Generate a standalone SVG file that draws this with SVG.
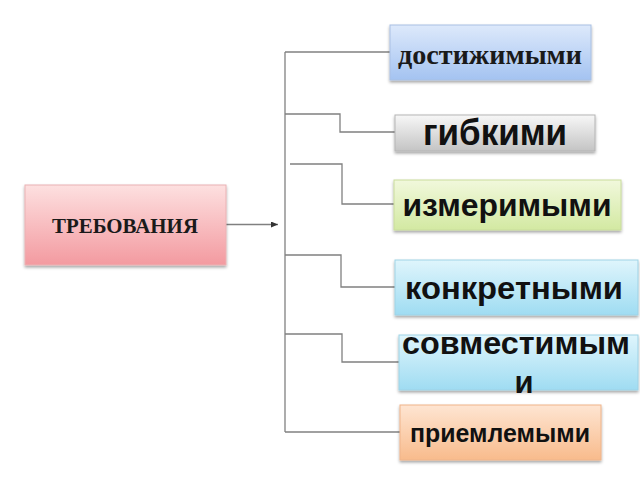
<svg xmlns="http://www.w3.org/2000/svg" width="640" height="480" viewBox="0 0 640 480">
<defs>
<linearGradient id="gPink" x1="0" y1="0" x2="0" y2="1"><stop offset="0" stop-color="#fde0e0"/><stop offset="1" stop-color="#f39aa0"/></linearGradient>
<linearGradient id="gBlue" x1="0" y1="0" x2="0" y2="1"><stop offset="0" stop-color="#dde9fb"/><stop offset="1" stop-color="#a4c3f1"/></linearGradient>
<linearGradient id="gGray" x1="0" y1="0" x2="0" y2="1"><stop offset="0" stop-color="#f7f7f7"/><stop offset="1" stop-color="#c4c4c4"/></linearGradient>
<linearGradient id="gGreen" x1="0" y1="0" x2="0" y2="1"><stop offset="0" stop-color="#f1f8dc"/><stop offset="1" stop-color="#d3e9a2"/></linearGradient>
<linearGradient id="gCyan" x1="0" y1="0" x2="0" y2="1"><stop offset="0" stop-color="#dff5fc"/><stop offset="1" stop-color="#9fdcf2"/></linearGradient>
<linearGradient id="gOrange" x1="0" y1="0" x2="0" y2="1"><stop offset="0" stop-color="#fee5d2"/><stop offset="1" stop-color="#f8bb8c"/></linearGradient>
<filter id="sh" x="-10%" y="-10%" width="125%" height="140%"><feDropShadow dx="0" dy="2" stdDeviation="1.5" flood-color="#000" flood-opacity="0.35"/></filter>
<marker id="arr" markerWidth="8" markerHeight="6" refX="7" refY="3" orient="auto" markerUnits="userSpaceOnUse"><path d="M0,0 L7,3 L0,6 Z" fill="#333"/></marker>
<style>
.box{filter:url(#sh);stroke-width:1}
.serif{font-family:"Liberation Serif","Times New Roman",serif;font-weight:bold;fill:#1a1a1a}
.sans{font-family:"Liberation Sans",Arial,sans-serif;font-weight:bold;fill:#111}
.ln{fill:none;stroke:#808080;stroke-width:1.3}
</style>
</defs>
<g id="connectors">
<path class="ln" d="M226,224.5 H278" stroke="#444" marker-end="url(#arr)"/>
<path class="ln" d="M285,52 V432"/>
<path class="ln" d="M285,52 H390"/>
<path class="ln" d="M285,114 H340 V132 H395"/>
<path class="ln" d="M290,164 H342 V204 H394"/>
<path class="ln" d="M285,255 H341 V287 H395"/>
<path class="ln" d="M285,334 H342 V362 H399"/>
<path class="ln" d="M285,432 H400"/>
</g>
<g id="n-treb">
<rect class="box" x="25" y="185" width="201" height="80" fill="url(#gPink)" stroke="#eab2b4"/>
<text class="serif" x="125" y="233" font-size="22" text-anchor="middle" textLength="146" lengthAdjust="spacingAndGlyphs">ТРЕБОВАНИЯ</text>
</g>
<g id="n-dost">
<rect class="box" x="390" y="25" width="201" height="55" fill="url(#gBlue)" stroke="#a9c0e3"/>
<text class="serif" x="490" y="64" font-size="27" text-anchor="middle" textLength="184" lengthAdjust="spacingAndGlyphs">достижимыми</text>
</g>
<g id="n-gib">
<rect class="box" x="395" y="115" width="200" height="36" fill="url(#gGray)" stroke="#b5b5b5"/>
<text class="sans" x="495" y="145" font-size="37" text-anchor="middle" textLength="144" lengthAdjust="spacingAndGlyphs">гибкими</text>
</g>
<g id="n-izm">
<rect class="box" x="394" y="180" width="227" height="50" fill="url(#gGreen)" stroke="#c9dc9c"/>
<text class="sans" x="507" y="216" font-size="31" text-anchor="middle" textLength="209" lengthAdjust="spacingAndGlyphs">измеримыми</text>
</g>
<g id="n-konk">
<rect class="box" x="395" y="260" width="243" height="55" fill="url(#gCyan)" stroke="#9fd3e6"/>
<text class="sans" x="514" y="299" font-size="31" text-anchor="middle" textLength="218" lengthAdjust="spacingAndGlyphs">конкретными</text>
</g>
<g id="n-sovm">
<rect class="box" x="399" y="335" width="239" height="55" fill="url(#gCyan)" stroke="#9fd3e6"/>
<text class="sans" x="516" y="354" font-size="31" text-anchor="middle" textLength="228" lengthAdjust="spacingAndGlyphs">совместимым</text>
<text class="sans" x="524" y="393" font-size="31" text-anchor="middle">и</text>
</g>
<g id="n-priem">
<rect class="box" x="400" y="405" width="201" height="55" fill="url(#gOrange)" stroke="#efb48a"/>
<text class="sans" x="500" y="442" font-size="26" text-anchor="middle" textLength="180" lengthAdjust="spacingAndGlyphs">приемлемыми</text>
</g>
</svg>
